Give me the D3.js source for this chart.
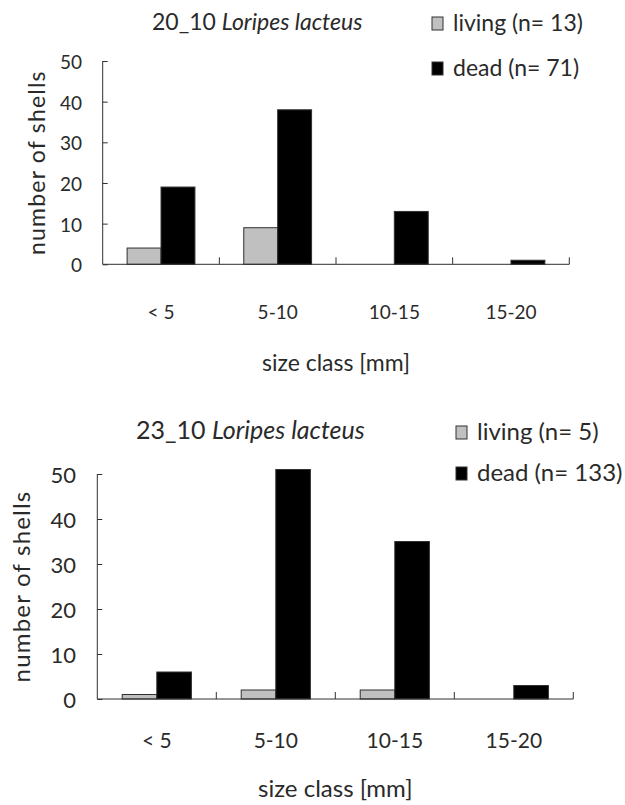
<!DOCTYPE html>
<html>
<head>
<meta charset="utf-8">
<script src="https://cdn.jsdelivr.net/npm/d3@7"></script>
<style>
  html, body { margin: 0; padding: 0; background: #fff; }
  svg text { font-family: Lato, "Open Sans", sans-serif; fill: #2a2a2a; }
</style>
</head>
<body>
<svg id="chart" width="625" height="805"></svg>
<script>
// Size-class distribution of Loripes lacteus shells, two sampling dates
const categories = ["< 5", "5-10", "10-15", "15-20"];
const seriesNames = ["living", "dead"];
const yTicks = [0, 10, 20, 30, 40, 50];

const living2010 = [4, 9, 0, 0];
const dead2010 = [19, 38, 13, 1];
const legend2010 = ["living (n= 13)", "dead (n= 71)"];

const living2310 = [1, 2, 2, 0];
const dead2310 = [6, 51, 35, 3];
const legend2310 = ["living (n= 5)", "dead (n= 133)"];

const species = "Loripes lacteus";
const yTitle = "number of shells";
const xTitle = "size class [mm]";

const fills = { living: "#c0c0c0", dead: "#000000" };

const svg = d3.select("#chart");

function drawPanel(cfg) {
  const g = svg.append("g");

  const x = d3.scaleBand().domain(categories).range([cfg.x0, cfg.x1]).padding(0);
  const xs = d3.scaleBand().domain(seriesNames)
    .range([0, x.bandwidth()]).paddingInner(0).paddingOuter(0.72);
  const y = d3.scaleLinear().domain([0, 50]).range([cfg.yBase, cfg.yTop]);

  // bars
  const rows = [];
  categories.forEach((c, i) => {
    rows.push({ cat: c, s: "living", v: cfg.living[i] });
    rows.push({ cat: c, s: "dead", v: cfg.dead[i] });
  });
  g.selectAll("rect.bar").data(rows.filter(d => d.v > 0)).join("rect")
    .attr("class", "bar")
    .attr("x", d => x(d.cat) + xs(d.s))
    .attr("width", xs.bandwidth())
    .attr("y", d => y(d.v))
    .attr("height", d => y(0) - y(d.v))
    .attr("fill", d => fills[d.s])
    .attr("stroke", "#303030")
    .attr("stroke-width", 1);

  // y axis with inward ticks
  const yAxis = d3.axisLeft(y).tickValues(yTicks).tickSize(-5).tickPadding(0).tickFormat(d3.format("d"));
  const ya = g.append("g").attr("transform", `translate(${cfg.x0},0)`).call(yAxis);
  ya.select(".domain").attr("stroke", "#303030").attr("d", `M0,${cfg.yTop}V${cfg.yBase}`);
  ya.selectAll(".tick line").attr("stroke", "#303030");
  ya.selectAll(".tick text")
    .attr("x", cfg.yLabelRight - cfg.x0)
    .attr("dy", "0.4em")
    .style("font-size", cfg.yTickSize + "px")
    .style("font-family", "Lato, sans-serif")
    .attr("fill", "#2a2a2a");

  // x axis: baseline, inward ticks at class boundaries, labels at class centres
  const xa = g.append("g").attr("transform", `translate(0,${cfg.yBase})`)
    .call(d3.axisBottom(x).tickSize(0).tickPadding(0));
  xa.select(".domain").attr("stroke", "#303030").attr("d", `M${cfg.x0},0H${cfg.x1}`);
  xa.selectAll(".tick text")
    .attr("y", cfg.xLabelBase - cfg.yBase)
    .attr("dy", 0)
    .style("font-size", cfg.xTickSize + "px")
    .style("font-family", "Lato, sans-serif")
    .attr("fill", "#2a2a2a");
  g.selectAll("line.xtick").data(categories).join("line")
    .attr("class", "xtick")
    .attr("x1", d => x(d) + x.bandwidth()).attr("x2", d => x(d) + x.bandwidth())
    .attr("y1", cfg.yBase).attr("y2", cfg.yBase - 7)
    .attr("stroke", "#303030");

  // axis titles
  g.append("text")
    .attr("x", (cfg.x0 + cfg.x1) / 2).attr("y", cfg.xTitleBase)
    .attr("text-anchor", "middle").style("font-size", cfg.textSize + "px")
    .text(xTitle);
  g.append("text")
    .attr("transform", `translate(${cfg.yTitleX},${(cfg.yTop + cfg.yBase) / 2}) rotate(-90)`)
    .attr("text-anchor", "middle").attr("dy", "0.35em")
    .style("font-size", cfg.textSize + "px")
    .style("letter-spacing", "1.2px")
    .text(yTitle);

  // chart title
  const t = g.append("text")
    .attr("x", cfg.titleX).attr("y", cfg.titleBase)
    .style("font-size", cfg.titleSize + "px");
  t.append("tspan").text(cfg.date + " ");
  t.append("tspan").attr("font-style", "italic").text(species);

  // legend
  const lg = g.append("g");
  seriesNames.forEach((s, i) => {
    const base = cfg.legendBase[i];
    lg.append("rect")
      .attr("x", cfg.legendX).attr("y", base - 14)
      .attr("width", 11).attr("height", 13)
      .attr("fill", fills[s]).attr("stroke", "#303030");
    lg.append("text")
      .attr("x", cfg.legendX + 21).attr("y", base)
      .style("font-size", cfg.textSize + "px")
      .text(cfg.legend[i]);
  });
}

drawPanel({
  date: "20_10", living: living2010, dead: dead2010, legend: legend2010,
  x0: 102.7, x1: 569.3, yTop: 61, yBase: 264.3,
  yLabelRight: 82, yTitleX: 37, xLabelBase: 319, xTitleBase: 371,
  titleX: 152, titleBase: 30, legendX: 432, legendBase: [31, 76],
  textSize: 23, titleSize: 23, xTickSize: 19, yTickSize: 19
});

drawPanel({
  date: "23_10", living: living2310, dead: dead2310, legend: legend2310,
  x0: 97.3, x1: 573.3, yTop: 474, yBase: 699,
  yLabelRight: 76, yTitleX: 22, xLabelBase: 748, xTitleBase: 797,
  titleX: 136, titleBase: 439, legendX: 456, legendBase: [440, 481],
  textSize: 24, titleSize: 25, xTickSize: 21, yTickSize: 22
});
</script>
</body>
</html>
